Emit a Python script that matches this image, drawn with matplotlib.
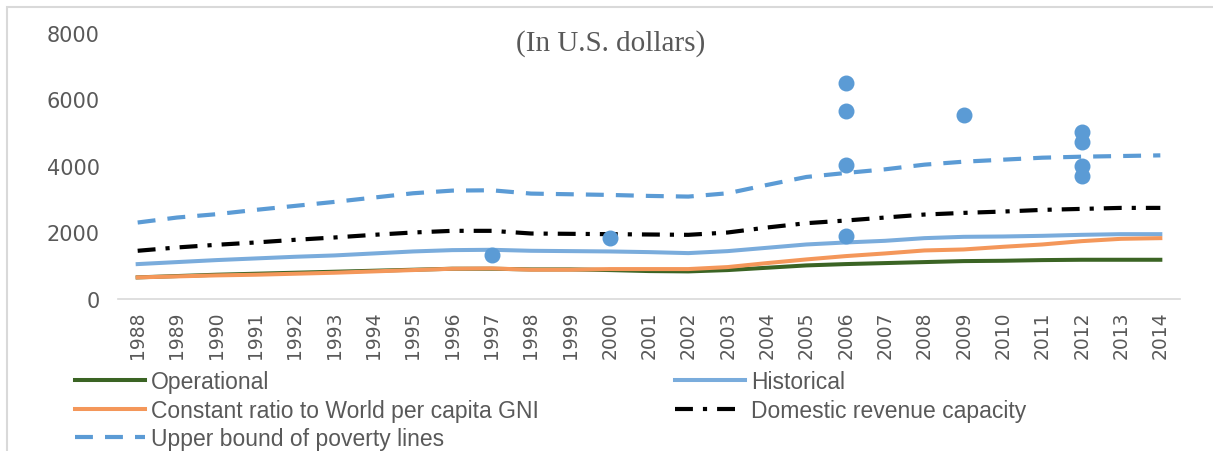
import matplotlib
matplotlib.use('Agg')
import matplotlib.pyplot as plt
from matplotlib.patches import Rectangle

years = list(range(1988, 2015))
year_labels = [str(y) for y in years]

operational = [650, 690, 730, 760, 790, 820, 850, 880, 910, 910, 890, 890, 870, 840, 830,
               870, 940, 1010, 1050, 1080, 1110, 1140, 1150, 1170, 1180, 1180, 1180]
historical = [1050, 1110, 1170, 1220, 1270, 1310, 1370, 1430, 1470, 1480, 1450, 1440, 1430, 1410, 1380,
              1440, 1540, 1640, 1700, 1750, 1830, 1870, 1880, 1900, 1930, 1950, 1950]
constant_ratio = [650, 680, 710, 730, 760, 790, 830, 870, 910, 920, 880, 880, 900, 900, 900,
                  960, 1080, 1190, 1290, 1370, 1460, 1490, 1570, 1640, 1740, 1810, 1830]
domestic_revenue = [1450, 1550, 1630, 1700, 1780, 1850, 1930, 2000, 2050, 2050, 1970, 1960, 1950, 1940, 1930,
                    2000, 2150, 2280, 2360, 2450, 2540, 2590, 2630, 2680, 2710, 2740, 2740]
upper_bound = [2300, 2450, 2550, 2680, 2800, 2920, 3050, 3180, 3260, 3270, 3170, 3150, 3130, 3100, 3080,
               3180, 3430, 3670, 3790, 3900, 4040, 4130, 4190, 4250, 4280, 4300, 4320]

# individual poverty line observations
point_years = [1997, 2000, 2006, 2006, 2006, 2006, 2009, 2012, 2012, 2012, 2012]
point_values = [1320, 1830, 6490, 5650, 4040, 1900, 5520, 5020, 4730, 4010, 3700]

W, H = 1213, 452
fig = plt.figure(figsize=(W / 100, H / 100), dpi=100)
ax = fig.add_axes([118 / W, 1 - 300 / H, (1180 - 118) / W, (300 - 34) / H])

x = list(range(len(years)))
px = [years.index(y) for y in point_years]

ax.plot(x, operational, color='#3B6424', lw=2.9, label='Operational')
ax.plot(x, historical, color='#7AACDC', lw=2.9, label='Historical')
ax.plot(x, constant_ratio, color='#F4975A', lw=2.9, label='Constant ratio to World per capita GNI')
ax.plot(x, domestic_revenue, color='black', lw=3, linestyle=(0, (4.3, 2.4, 1, 2.4)),
        label='Domestic revenue capacity')
ax.plot(x, upper_bound, color='#5B9BD5', lw=3, linestyle=(0, (4.3, 2.9)),
        label='Upper bound of poverty lines')
ax.scatter(px, point_values, s=110, color='#5B9BD5', zorder=5)

ax.set_xlim(-0.5, len(years) - 0.5)
ax.set_ylim(0, 8000)
ax.set_yticks([0, 2000, 4000, 6000, 8000])
ax.set_xticks(x)
ax.set_xticklabels(year_labels, rotation=90)
ax.tick_params(axis='y', length=0, pad=13, labelsize=15, labelcolor='#595959')
ax.tick_params(axis='x', length=0, pad=8, labelsize=13.5, labelcolor='#595959')
for s in ['top', 'right', 'left']:
    ax.spines[s].set_visible(False)
ax.spines['bottom'].set_color('#D9D9D9')
ax.spines['bottom'].set_linewidth(1.2)

fig.text(611 / W, 1 - 44 / H, '(In U.S. dollars)', ha='center', va='center',
         family='Liberation Serif', fontsize=21, color='#595959')

h, l = ax.get_legend_handles_labels()
order = [0, 2, 4, 1, 3]
leg = fig.legend([h[i] for i in order], [l[i] for i in order], ncol=2,
                 loc='upper left', bbox_to_anchor=(75 / W, 1 - 371 / H),
                 frameon=False, prop={'family': 'Liberation Sans', 'size': 16.5},
                 handlelength=3.05, handletextpad=0.26, columnspacing=5.95,
                 labelspacing=0.245, borderpad=0, borderaxespad=0)
for t in leg.get_texts():
    t.set_color('#595959')

fig.patches.append(Rectangle((7 / W, -0.1), 1.2, 1.1 - 8 / H, transform=fig.transFigure,
                             fill=False, edgecolor='#D9D9D9', lw=1.5))

fig.savefig('out.png', dpi=100)
